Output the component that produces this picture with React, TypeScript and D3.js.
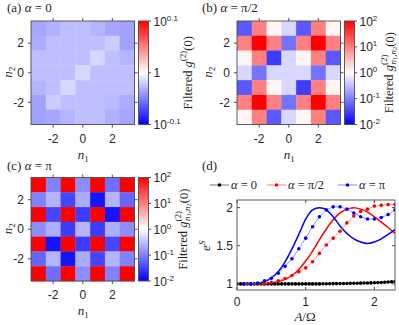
import React, { useEffect, useRef } from 'react';
import * as d3 from 'd3';

const nVals = [-3, -2, -1, 0, 1, 2, 3];
const nTicks = [-2, 0, 2];

// log10 of filtered g2, rows from n2 = 3 (top) down to n2 = -3
const logMapA = [
  [-0.035, -0.031, -0.025, -0.025, -0.029, -0.035, -0.037],
  [-0.033, -0.025, -0.025, -0.025, -0.025, -0.020, -0.037],
  [-0.025, -0.025, -0.025, -0.025, -0.016, -0.025, -0.029],
  [-0.025, -0.025, -0.025, -0.016, -0.025, -0.025, -0.025],
  [-0.029, -0.025, -0.016, -0.025, -0.025, -0.025, -0.025],
  [-0.037, -0.020, -0.025, -0.025, -0.025, -0.027, -0.033],
  [-0.037, -0.035, -0.029, -0.025, -0.025, -0.031, -0.035],
];
const logMapB = [
  [-1.3, 1.0, 0.08, -0.31, -1.3, 1.0, 0.08],
  [1.0, 2.0, 1.0, -1.1, 1.0, 2.0, 1.0],
  [0.08, 1.0, -1.53, -0.31, 0.08, 1.0, -1.3],
  [-0.31, -1.1, -0.31, -0.31, -0.31, -1.1, -0.31],
  [-1.3, 1.0, 0.08, -0.31, -1.53, 1.0, 0.08],
  [1.0, 2.0, 1.0, -1.1, 1.0, 2.0, 1.0],
  [0.08, 1.0, -1.3, -0.31, 0.08, 1.0, -1.3],
];
const logMapC = [
  [2, -0.98, 2, -0.9, 2, -1.14, 2],
  [-0.98, -0.59, -1.45, -0.67, -1.84, -0.59, -1.2],
  [2, -1.45, 2, -1.53, 2, -1.84, 2],
  [-0.9, -0.63, -1.53, -0.59, -1.53, -0.63, -0.9],
  [2, -1.84, 2, -1.53, 2, -1.45, 2],
  [-1.2, -0.59, -1.84, -0.67, -1.45, -0.59, -0.98],
  [2, -1.14, 2, -0.9, 2, -0.98, 2],
];

// panel (d): e^S against A/Omega
const aLine = [0, 0.1, 0.2, 0.3, 0.4, 0.5, 0.6, 0.7, 0.8, 0.9, 1.0, 1.1, 1.2, 1.3, 1.4, 1.5, 1.6, 1.7, 1.8, 1.9, 2.0, 2.1, 2.2, 2.3];
const blueLine = [1, 1, 1, 1.01, 1.03, 1.08, 1.16, 1.29, 1.46, 1.65, 1.85, 1.97, 2.0, 1.97, 1.88, 1.76, 1.66, 1.59, 1.55, 1.53, 1.55, 1.59, 1.65, 1.71];
const redLine = [1, 1, 1, 1, 1, 1.01, 1.03, 1.06, 1.11, 1.19, 1.3, 1.43, 1.58, 1.72, 1.84, 1.93, 1.98, 2.0, 1.98, 1.94, 1.88, 1.81, 1.74, 1.66];
const aDots = [0.1, 0.2, 0.3, 0.4, 0.5, 0.6, 0.7, 0.8, 0.9, 1.0, 1.1, 1.2, 1.3, 1.4, 1.5, 1.6, 1.7, 1.8, 1.9, 2.0, 2.1, 2.2, 2.3];
const blueDots = [1, 1, 1.01, 1.04, 1.075, 1.14, 1.23, 1.33, 1.46, 1.6, 1.75, 1.88, 1.97, 2.01, 2.01, 1.98, 1.93, 1.88, 1.85, 1.85, 1.87, 1.91, 1.97];
const redDots = [1, 1, 1, 1, 1.02, 1.04, 1.07, 1.11, 1.16, 1.21, 1.29, 1.4, 1.51, 1.6, 1.69, 1.8, 1.89, 1.95, 1.98, 2.02, 2.03, 2.04, 2.04];
const aBlack = [0, 0.05, 0.1, 0.15, 0.2, 0.25, 0.3, 0.35, 0.4, 0.45, 0.5, 0.55, 0.6, 0.65, 0.7, 0.75, 0.8, 0.85, 0.9, 0.95, 1.0, 1.05, 1.1, 1.15, 1.2,
  1.25, 1.3, 1.35, 1.4, 1.45, 1.5, 1.55, 1.6, 1.65, 1.7, 1.75, 1.8, 1.85, 1.9, 1.95, 2.0, 2.05, 2.1, 2.15, 2.2, 2.25, 2.3];
const blackDots = [1, 1, 1, 1, 1, 1, 1, 1, 1, 1, 1, 1, 1, 1, 1, 1, 1, 1, 1, 1, 1, 1, 1, 1, 1,
  1.001, 1.002, 1.002, 1.003, 1.004, 1.004, 1.005, 1.006, 1.007, 1.008, 1.009, 1.01, 1.011, 1.012, 1.013, 1.015,
  1.017, 1.019, 1.021, 1.024, 1.027, 1.03];
const xTicksD = [0, 1, 2];
const yTicksD = [1, 1.5, 2];

const SANS = '"Liberation Sans", Arial, sans-serif';
const SERIF = '"Liberation Serif", "Times New Roman", serif';
const FRAME = '#4d4d4d';
const INK = '#262626';

type Part = { t: string; it?: boolean; fs?: number; dy?: number; dx?: number };

// text made of pieces (italic symbols, sub/superscripts)
function mathText(sel: any, parts: Part[]) {
  sel.attr('fill', INK);
  parts.forEach(p => {
    const s = sel.append('tspan').text(p.t);
    if (p.it) s.attr('font-style', 'italic');
    if (p.fs) s.attr('font-size', p.fs);
    if (p.dy) s.attr('dy', p.dy);
    if (p.dx) s.attr('dx', p.dx);
  });
  return sel;
}

function heatmap(svg: any, x0: number, y0: number, size: number, data: number[][], maxLog: number,
  cbTicks: { v: number; exp: string | null; plain?: string }[], gid: string, withSub: boolean, n2x: number) {
  const g = svg.append('g');
  const x = d3.scaleBand<number>().domain(nVals).range([x0, x0 + size]);
  const y = d3.scaleBand<number>().domain([...nVals].reverse()).range([y0, y0 + size]);
  const color = d3.scaleLinear<string>().domain([-maxLog, 0, maxLog])
    .range(['#0000ff', '#ffffff', '#ff0000']).clamp(true);

  const cells = data.flatMap((row, i) => row.map((v, j) => ({ n1: nVals[j], n2: nVals[6 - i], v })));
  g.selectAll('rect.cell').data(cells).join('rect')
    .attr('x', d => x(d.n1)!).attr('y', d => y(d.n2)!)
    .attr('width', x.bandwidth() + 0.3).attr('height', y.bandwidth() + 0.3)
    .attr('fill', d => color(d.v));
  g.append('rect').attr('x', x0).attr('y', y0).attr('width', size).attr('height', size)
    .attr('fill', 'none').attr('stroke', FRAME).attr('stroke-width', 0.9);

  const c = (v: number, s: any) => s(v)! + s.bandwidth() / 2;
  nTicks.forEach(t => {
    g.append('line').attr('x1', c(t, x)).attr('x2', c(t, x)).attr('y1', y0).attr('y2', y0 - 3).attr('stroke', FRAME);
    g.append('line').attr('x1', c(t, x)).attr('x2', c(t, x)).attr('y1', y0 + size).attr('y2', y0 + size + 3).attr('stroke', FRAME);
    g.append('line').attr('y1', c(t, y)).attr('y2', c(t, y)).attr('x1', x0).attr('x2', x0 - 3).attr('stroke', FRAME);
    g.append('line').attr('y1', c(t, y)).attr('y2', c(t, y)).attr('x1', x0 + size).attr('x2', x0 + size + 3).attr('stroke', FRAME);
    g.append('text').attr('x', c(t, x)).attr('y', y0 + size + 18).attr('text-anchor', 'middle').attr('fill', INK)
      .attr('font-family', SANS).attr('font-size', 12).text(t < 0 ? `-${-t}` : `${t}`);
    g.append('text').attr('x', x0 - 7).attr('y', c(t, y)).attr('dy', '0.35em').attr('text-anchor', 'end').attr('fill', INK)
      .attr('font-family', SANS).attr('font-size', 12).text(t < 0 ? `-${-t}` : `${t}`);
  });
  mathText(g.append('text').attr('x', x0 + size / 2 - 5).attr('y', y0 + size + 34)
    .attr('font-family', SERIF).attr('font-size', 13), [{ t: 'n', it: true }, { t: '1', fs: 9, dy: 3 }]);
  mathText(g.append('text').attr('transform', `translate(${n2x},${y0 + size / 2 + 5}) rotate(-90)`)
    .attr('font-family', SERIF).attr('font-size', 13), [{ t: 'n', it: true }, { t: '2', fs: 9, dy: 3 }]);

  // colorbar
  const cx = x0 + size + 4;
  const grad = svg.append('defs').append('linearGradient').attr('id', gid)
    .attr('x1', 0).attr('y1', 1).attr('x2', 0).attr('y2', 0);
  grad.append('stop').attr('offset', '0%').attr('stop-color', '#0000ff');
  grad.append('stop').attr('offset', '50%').attr('stop-color', '#ffffff');
  grad.append('stop').attr('offset', '100%').attr('stop-color', '#ff0000');
  g.append('rect').attr('x', cx).attr('y', y0).attr('width', 10).attr('height', size)
    .attr('fill', `url(#${gid})`).attr('stroke', FRAME).attr('stroke-width', 0.9);
  const cy = d3.scaleLinear().domain([-maxLog, maxLog]).range([y0 + size, y0]);
  cbTicks.forEach(tk => {
    g.append('line').attr('x1', cx + 10).attr('x2', cx + 12.5).attr('y1', cy(tk.v)).attr('y2', cy(tk.v)).attr('stroke', FRAME);
    const t = g.append('text').attr('x', cx + 15).attr('y', cy(tk.v) + 4.5)
      .attr('font-family', SANS).attr('font-size', 12).attr('fill', INK);
    if (tk.exp === null) t.text(tk.plain!);
    else mathText(t, [{ t: '10' }, { t: tk.exp, fs: 8, dy: -5 }]);
  });
  const lab = g.append('text').attr('transform', `translate(${cx + (withSub ? 48 : 53)},${y0 + size / 2}) rotate(-90)`)
    .attr('text-anchor', 'middle').attr('font-family', SERIF).attr('font-size', 12.5);
  if (withSub) {
    mathText(lab, [{ t: 'Filtered ' }, { t: 'g', it: true }, { t: '(2)', fs: 9, dy: -6 },
      { t: 'n', it: true, fs: 9, dx: -10, dy: 9 }, { t: '1', fs: 6.5, dy: 1.5 }, { t: ',', fs: 9, dy: -1.5 },
      { t: 'n', it: true, fs: 9 }, { t: '2', fs: 6.5, dy: 1.5 }, { t: '(0)', dy: -3 }]);
  } else {
    mathText(lab, [{ t: 'Filtered ' }, { t: 'g', it: true }, { t: '(2)', fs: 9, dy: -6 }, { t: '(0)', dy: 6 }]);
  }
}

const App = () => {
  const ref = useRef<SVGSVGElement>(null);

  useEffect(() => {
    const svg = d3.select(ref.current);
    svg.selectAll('*').remove();

    const title = (x: number, y: number, parts: Part[]) =>
      mathText(svg.append('text').attr('x', x).attr('y', y).attr('font-family', SERIF).attr('font-size', 13), parts);
    title(7, 12, [{ t: '(a) ' }, { t: 'α', it: true }, { t: ' = 0' }]);
    title(202, 12, [{ t: '(b) ' }, { t: 'α', it: true }, { t: ' = π/2' }]);
    title(7, 170, [{ t: '(c) ' }, { t: 'α', it: true }, { t: ' = π' }]);
    title(202, 170, [{ t: '(d)' }]);

    heatmap(svg, 31, 21, 103.5, logMapA, 0.1,
      [{ v: 0.1, exp: '0.1' }, { v: 0, exp: null, plain: '1' }, { v: -0.1, exp: '-0.1' }], 'gradA', false, 12);
    heatmap(svg, 237, 21, 103.5, logMapB, 2,
      [2, 1, 0, -1, -2].map(v => ({ v, exp: `${v}` })), 'gradB', true, 212);
    heatmap(svg, 31, 177.5, 103.5, logMapC, 2,
      [2, 1, 0, -1, -2].map(v => ({ v, exp: `${v}` })), 'gradC', true, 12);

    // panel (d)
    const x = d3.scaleLinear().domain([0, 2.3]).range([237, 395]);
    const y = d3.scaleLinear().domain([0.92, 2.1]).range([290, 200]);
    const gd = svg.append('g');
    gd.append('defs').append('clipPath').attr('id', 'clipD').append('rect')
      .attr('x', 237).attr('y', 200).attr('width', 158).attr('height', 90);
    const plot = gd.append('g').attr('clip-path', 'url(#clipD)');

    const line = d3.line<[number, number]>().x(d => x(d[0])).y(d => y(d[1]));
    const smooth = d3.line<[number, number]>().x(d => x(d[0])).y(d => y(d[1])).curve(d3.curveMonotoneX);

    const series = [
      { xs: aBlack, ys: blackDots, col: '#000000', thin: '#555555' },
      { xs: aDots, ys: redDots, col: '#ff0000', thin: '#ff6666' },
      { xs: aDots, ys: blueDots, col: '#0000ff', thin: '#6666ff' },
    ];
    plot.append('path').datum(aLine.map((a, i) => [a, redLine[i]] as [number, number]))
      .attr('d', smooth).attr('fill', 'none').attr('stroke', '#ff0000').attr('stroke-width', 1.5);
    plot.append('path').datum(aLine.map((a, i) => [a, blueLine[i]] as [number, number]))
      .attr('d', smooth).attr('fill', 'none').attr('stroke', '#0000ff').attr('stroke-width', 1.5);
    series.forEach(s => {
      const pts = s.xs.map((a, i) => [a, s.ys[i]] as [number, number]);
      plot.append('path').datum(pts).attr('d', line).attr('fill', 'none')
        .attr('stroke', s.thin).attr('stroke-width', 0.7);
      plot.append('g').selectAll('circle').data(pts).join('circle')
        .attr('cx', d => x(d[0])).attr('cy', d => y(d[1])).attr('r', 1.8).attr('fill', s.col);
    });

    gd.append('rect').attr('x', 237).attr('y', 200).attr('width', 158).attr('height', 90)
      .attr('fill', 'none').attr('stroke', FRAME).attr('stroke-width', 0.9);
    xTicksD.forEach(t => {
      gd.append('line').attr('x1', x(t)).attr('x2', x(t)).attr('y1', 290).attr('y2', 287).attr('stroke', FRAME);
      gd.append('line').attr('x1', x(t)).attr('x2', x(t)).attr('y1', 200).attr('y2', 203).attr('stroke', FRAME);
      gd.append('text').attr('x', x(t)).attr('y', 306).attr('text-anchor', 'middle').attr('fill', INK)
        .attr('font-family', SANS).attr('font-size', 12).text(t);
    });
    yTicksD.forEach(t => {
      gd.append('line').attr('x1', 237).attr('x2', 240).attr('y1', y(t)).attr('y2', y(t)).attr('stroke', FRAME);
      gd.append('line').attr('x1', 395).attr('x2', 392).attr('y1', y(t)).attr('y2', y(t)).attr('stroke', FRAME);
      gd.append('text').attr('x', 233).attr('y', y(t)).attr('dy', '0.35em').attr('text-anchor', 'end').attr('fill', INK)
        .attr('font-family', SANS).attr('font-size', 12).text(t);
    });
    mathText(gd.append('text').attr('x', 305).attr('y', 321).attr('text-anchor', 'middle')
      .attr('font-family', SERIF).attr('font-size', 13), [{ t: 'A', it: true }, { t: '/Ω' }]);
    mathText(gd.append('text').attr('transform', `translate(210,${y(1.5)}) rotate(-90)`).attr('text-anchor', 'middle')
      .attr('font-family', SERIF).attr('font-size', 13), [{ t: 'e', it: true }, { t: 'S', it: true, fs: 9, dy: -5 }]);

    // legend
    const legend = [
      { x1: 210, col: '#000000', thin: '#555555', label: [{ t: 'α', it: true }, { t: ' = 0' }] },
      { x1: 267, col: '#ff0000', thin: '#ff6666', label: [{ t: 'α', it: true }, { t: ' = π/2' }] },
      { x1: 338, col: '#0000ff', thin: '#6666ff', label: [{ t: 'α', it: true }, { t: ' = π' }] },
    ];
    legend.forEach(l => {
      gd.append('line').attr('x1', l.x1).attr('x2', l.x1 + 19).attr('y1', 185).attr('y2', 185)
        .attr('stroke', l.thin).attr('stroke-width', 0.8);
      gd.append('circle').attr('cx', l.x1 + 9.5).attr('cy', 185).attr('r', 1.8).attr('fill', l.col);
      mathText(gd.append('text').attr('x', l.x1 + 21).attr('y', 189)
        .attr('font-family', SERIF).attr('font-size', 12.5), l.label);
    });
  }, []);

  return (
    <div style={{ position: 'absolute', left: 0, top: 0, width: 399, height: 325, background: '#fff' }}>
      <svg ref={ref} width={399} height={325} style={{ display: 'block' }}></svg>
    </div>
  );
};

export default App;
